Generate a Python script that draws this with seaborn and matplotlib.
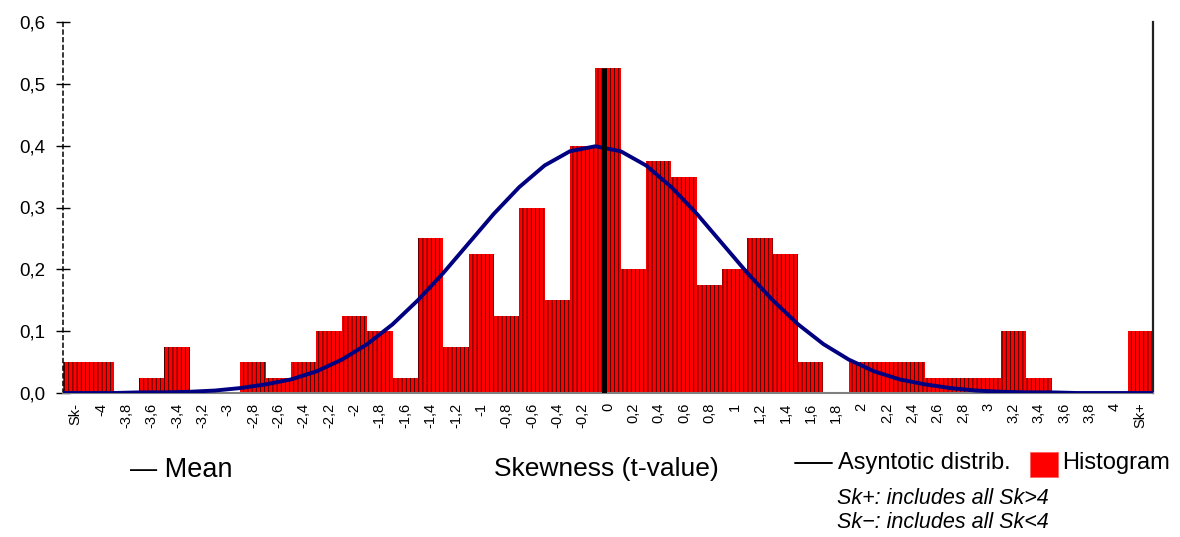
import numpy as np
import matplotlib
matplotlib.use("Agg")
import matplotlib.pyplot as plt
from matplotlib.lines import Line2D
from matplotlib.patches import Rectangle
import seaborn as sns

# Skewness classes: Sk- / -4 ... 4 step 0.2 / Sk+
cat_labels = ["Sk-", "-4", "-3,8", "-3,6", "-3,4", "-3,2", "-3", "-2,8", "-2,6", "-2,4",
              "-2,2", "-2", "-1,8", "-1,6", "-1,4", "-1,2", "-1", "-0,8", "-0,6", "-0,4",
              "-0,2", "0", "0,2", "0,4", "0,6", "0,8", "1", "1,2", "1,4", "1,6",
              "1,8", "2", "2,2", "2,4", "2,6", "2,8", "3", "3,2", "3,4", "3,6",
              "3,8", "4", "Sk+"]

# Relative frequency of each class
hist_values = [0.05, 0.05, 0.0, 0.025, 0.075, 0.0, 0.0, 0.05, 0.025, 0.05,
               0.1, 0.125, 0.1, 0.025, 0.25, 0.075, 0.225, 0.125, 0.3, 0.15,
               0.4, 0.525, 0.2, 0.375, 0.35, 0.175, 0.2, 0.25, 0.225, 0.05,
               0.0, 0.05, 0.05, 0.05, 0.025, 0.025, 0.025, 0.1, 0.025, 0.0,
               0.0, 0.0, 0.1]

# Asymptotic density at the class boundaries (t = -4.2 ... 4.4)
asym_density = [0.000, 0.000, 0.000, 0.001, 0.001, 0.002, 0.004, 0.008, 0.014, 0.022,
                0.035, 0.054, 0.079, 0.111, 0.150, 0.194, 0.242, 0.290, 0.333, 0.368,
                0.391, 0.399, 0.391, 0.368, 0.333, 0.290, 0.242, 0.194, 0.150, 0.111,
                0.079, 0.054, 0.035, 0.022, 0.014, 0.008, 0.004, 0.002, 0.001, 0.001,
                0.000, 0.000, 0.000, 0.000]

mean_t = -0.03          # mean of the t-values
class_width = 0.2
zero_class = cat_labels.index("0")

y_ticks = [0.0, 0.1, 0.2, 0.3, 0.4, 0.5, 0.6]
y_tick_labels = ["0,0", "0,1", "0,2", "0,3", "0,4", "0,5", "0,6"]

sns.set_theme(style="white")
plt.rcParams["font.family"] = ["Liberation Sans", "DejaVu Sans"]
plt.rcParams["hatch.linewidth"] = 0.5
plt.rcParams["text.color"] = "black"
plt.rcParams["xtick.color"] = "black"
plt.rcParams["ytick.color"] = "black"
plt.rcParams["xtick.labelcolor"] = "black"
plt.rcParams["ytick.labelcolor"] = "black"

W, H = 1180, 537
fig = plt.figure(figsize=(W / 100, H / 100), dpi=100)
ax = fig.add_axes([63 / W, 1 - 393 / H, (1153 - 63) / W, (393 - 22) / H])

# Histogram bars with vertical hatching
sns.barplot(x=cat_labels, y=hist_values, color="#ff0000", saturation=1, width=1.0,
            edgecolor="black", linewidth=0, hatch="||||", ax=ax, zorder=2)

# Asymptotic distribution, drawn at the class boundaries
edges = np.arange(len(asym_density)) - 0.5
sns.lineplot(x=edges, y=asym_density, color="#000080", linewidth=2.8, ax=ax,
             zorder=3, sort=False)

# Mean marker
mean_pos = zero_class + mean_t / class_width
ax.vlines(mean_pos, 0, max(hist_values), color="black", linewidth=3.6, zorder=4)

ax.set_xlim(-0.5, len(cat_labels) - 0.5)
ax.set_ylim(0, 0.6)
ax.set_xticks(range(len(cat_labels)))
ax.set_xticklabels(cat_labels, rotation=90, fontsize=10.5, color="black")
ax.set_yticks(y_ticks)
ax.set_yticklabels(y_tick_labels, fontsize=13.5, color="black")
ax.tick_params(axis="x", length=0, pad=7)
ax.tick_params(axis="y", direction="inout", length=10, width=1, color="black", pad=8,
               left=True)
ax.set_xlabel("")
ax.set_ylabel("")

ax.spines["top"].set_visible(False)
ax.spines["left"].set_linestyle((0, (2.5, 2.5)))
ax.spines["left"].set_color("black")
ax.spines["left"].set_linewidth(1.1)
ax.spines["bottom"].set_color("#808080")
ax.spines["bottom"].set_linewidth(1.5)
ax.spines["right"].set_color("#222222")
ax.spines["right"].set_linewidth(1.6)

# Labels and key below the axis
def fx(px):
    return px / W


def fy(py):
    return 1 - py / H


fig.text(fx(130), fy(470), "\u2014 Mean", fontsize=19.5, va="center", ha="left")
fig.text(fx(606), fy(469), "Skewness (t-value)", fontsize=19, va="center", ha="center")
fig.add_artist(Line2D([fx(795), fx(832)], [fy(463), fy(463)], color="black", linewidth=1.4))
fig.text(fx(838), fy(463), "Asyntotic distrib.", fontsize=17, va="center", ha="left")
fig.add_artist(Rectangle((fx(1030), fy(477)), fx(28), 25 / H, facecolor="#ff0000",
                         edgecolor="#ff6060", linewidth=0.6))
fig.text(fx(1062), fy(463), "Histogram", fontsize=17, va="center", ha="left")
fig.text(fx(837), fy(498), "Sk+: includes all Sk>4", fontsize=15.5, style="italic",
         va="center", ha="left")
fig.text(fx(837), fy(522), "Sk\u2212: includes all Sk<4", fontsize=15.5, style="italic",
         va="center", ha="left")

fig.savefig("out.png", dpi=100, facecolor="white")
